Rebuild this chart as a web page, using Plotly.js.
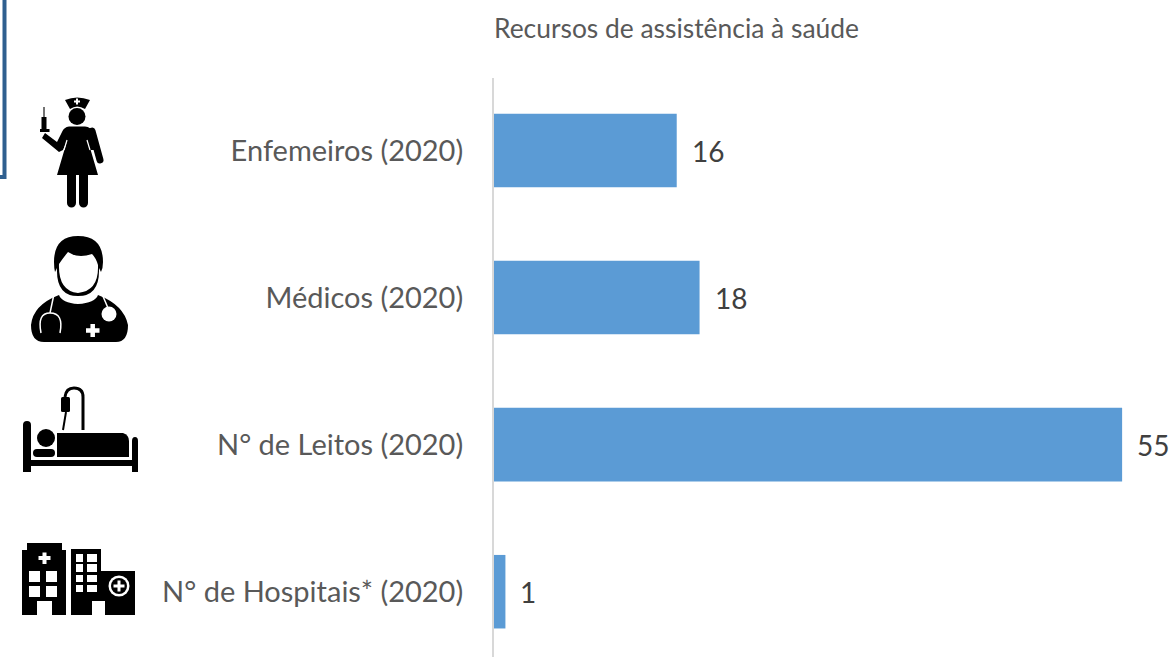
<!DOCTYPE html>
<html><head><meta charset="utf-8">
<script src="https://cdn.plot.ly/plotly-3.0.0.min.js"></script>
<style>html,body{margin:0;padding:0;background:#fff}#c{width:1171px;height:657px}</style>
</head><body><div id="c"></div>
<script>
const categories = ["Enfemeiros (2020)", "Médicos (2020)", "N° de Leitos (2020)", "N° de Hospitais* (2020)"];
const values = [16, 18, 55, 1];
const chartTitle = "Recursos de assistência à saúde";

const W = 1171, H = 657, L = 494, T = 78;
const PW = W - L, PH = H - T;
const px = x => (x - L) / PW, py = y => 1 - (y - T) / PH;

const icons = [
 {box:[36,94,72,118], body:`
  <path d="M65 100Q77 95 90 100L85 109Q77 104 70 109Z" fill="#000"/>
  <path d="M77 98.500v6M74 101.500h6" stroke="#fff" stroke-width="2"/>
  <circle cx="77" cy="116.500" r="8.500"/>
  <path d="M69 126.500H85Q91 127 93 132L97 150 90 150 88 141 98 175H57L67 141 63 150 59 152 42 138 45 133 57 142 62 132Q64 127 69 126.500Z"/>
  <path d="M92 131L100 160" stroke="#000" stroke-width="7" stroke-linecap="round" fill="none"/>
  <path d="M87 140L90 150" stroke="#fff" stroke-width="1.200"/>
  <path d="M67 140L64 150" stroke="#fff" stroke-width="1.200"/>
  <path d="M71.500 175V203M83.500 175V203" stroke="#000" stroke-width="9" stroke-linecap="round"/>
  <path d="M44 107V118" stroke="#444" stroke-width="1.500"/>
  <rect x="41.500" y="117" width="5" height="12"/><rect x="40" y="129" width="9.500" height="3"/>`},
 {box:[28,234,104,112], body:`
  <path d="M54 262Q54 236 78 236Q103 236 103 262Q103 268 101 272L99 268Q100 296 78 296Q56 296 57 268L55 272Q54 268 54 262Z"/>
  <path d="M59 264Q63 258 68 252Q78 259 92 254Q96 258 98 265Q99 291 78 293Q58 291 59 264Z" fill="#fff"/>
  <path d="M31 325Q33 305 59 295Q62 303 78 304Q95 303 98 295Q124 305 128 325Q128 342 116 342H44Q31 342 31 325Z"/>
  <path d="M54 294L50 313M102 294L108 308" stroke="#fff" stroke-width="1.500" fill="none"/>
  <path d="M41 333Q37 313 50 313Q64 313 60 333" stroke="#fff" stroke-width="1.500" fill="none"/>
  <circle cx="109" cy="314" r="7.500" fill="#fff"/>
  <path d="M92.700 324V337M86 330.500H99.500" stroke="#fff" stroke-width="4.500"/>`},
 {box:[20,384,122,92], body:`
  <path d="M23 472V425Q23 421 27 421Q31 421 31 425V460H132V441Q132 437 135 437Q138 437 138 441V472H132V466H31V472Z"/>
  <circle cx="46" cy="438" r="9"/>
  <rect x="33" y="449" width="22" height="8" rx="4"/>
  <path d="M57 433H123Q129 435 129 441V457H57Z"/>
  <path d="M83 430V397Q83 388 74 388Q66 388 65 397" fill="none" stroke="#000" stroke-width="3"/>
  <rect x="61" y="397" width="9" height="15" rx="1.500"/>
  <path d="M66 412L63 430" stroke="#000" stroke-width="2"/>`},
 {box:[18,540,120,78], body:`
  <path d="M27 543H62V550H66V615H52V601H37V615H22V550H27Z"/>
  <path d="M44.500 552.500V564M38.500 558H50.500" stroke="#fff" stroke-width="4"/>
  <path d="M29 571H40V582H29ZM46 571H57V582H46ZM29 586H40V597H29ZM46 586H57V597H46Z" fill="#fff"/>
  <path d="M71 549H101V571H135V615H105V601H92V615H71Z"/>
  <path d="M76 554H83V562H76ZM87 554H97V562H87ZM76 564H83V572H76ZM87 564H97V572H87ZM76 575H83V582H76ZM87 575H97V582H87ZM76 585H83V592H76ZM87 585H97V592H87Z" fill="#fff"/>
  <circle cx="119" cy="586" r="10.500" fill="#fff"/><circle cx="119" cy="586" r="8"/>
  <path d="M119 580.500V591.500M113.500 586H124.500" stroke="#fff" stroke-width="3"/>`}
];

const images = icons.map(ic => {
  const [x, y, w, h] = ic.box;
  const svg = `<svg xmlns="http://www.w3.org/2000/svg" width="${w*2}" height="${h*2}" viewBox="${x} ${y} ${w} ${h}">${ic.body}</svg>`;
  return {source: "data:image/svg+xml;base64," + btoa(svg), xref: "paper", yref: "paper",
    x: px(x), y: py(y), sizex: w / PW, sizey: h / PH, sizing: "stretch",
    xanchor: "left", yanchor: "top", layer: "above"};
});

const annotations = values.map((v, i) => ({
  x: v, y: categories[i], xref: "x", yref: "y", text: String(v), showarrow: false,
  xanchor: "left", yanchor: "middle", xshift: 13, yshift: 0,
  font: {family: "Lato, sans-serif", size: 28, color: "#404040"}
}));
annotations.push({
  xref: "paper", yref: "paper", x: 0, y: py(28), xanchor: "left", yanchor: "middle", xshift: -2,
  text: chartTitle, showarrow: false,
  font: {family: "Lato, sans-serif", size: 26.4, color: "#595959"}
});

const barTrace = {
  type: "bar", orientation: "h", x: values, y: categories,
  marker: {color: "#5b9bd5", line: {width: 0}}, hoverinfo: "x+y"
};

const layout = {
  width: W, height: H, paper_bgcolor: "#fff", plot_bgcolor: "#fff",
  margin: {l: L, r: 0, t: T, b: 0, pad: 0},
  showlegend: false, bargap: 0.5,
  xaxis: {range: [0, 59.28], visible: false, fixedrange: true},
  yaxis: {type: "category", categoryorder: "array", categoryarray: categories,
    range: [3.444, -0.493], autorange: false, automargin: false,
    showgrid: false, zeroline: false, showline: true, linecolor: "#d8d8d8", linewidth: 2,
    ticks: "", ticklabelstandoff: 23, fixedrange: true,
    tickfont: {family: "Lato, sans-serif", size: 29, color: "#595959"}},
  annotations, images,
  shapes: [{type: "path", xref: "paper", yref: "paper", layer: "above",
    path: `M ${px(4.5)} ${py(0)} L ${px(4.5)} ${py(177)} L ${px(0)} ${py(177)}`,
    line: {color: "#2f5f8f", width: 4}}]
};
Plotly.newPlot("c", [barTrace], layout, {displayModeBar: false, staticPlot: true});
</script></body></html>
